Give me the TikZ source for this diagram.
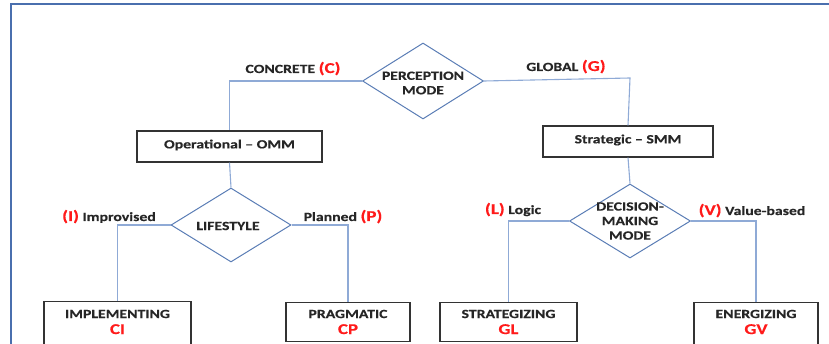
\documentclass[tikz,border=0pt]{standalone}
\usepackage{fontspec}
\setmainfont{Carlito}[FakeStretch=1.26,FakeBold=0.4]
\usetikzlibrary{shapes.geometric}
\definecolor{framec}{HTML}{4A6FAE}
\definecolor{linec}{HTML}{8FAAD6}
\definecolor{dmdc}{HTML}{5A7DB5}
\definecolor{boxc}{HTML}{333333}
\definecolor{redc}{HTML}{FF1A1A}
\newcommand{\rl}[1]{{\fontsize{15}{17}\selectfont\color{redc}#1}}
\tikzset{
  dmd/.style={diamond, draw=dmdc, line width=1pt, inner sep=0pt, minimum width=121pt, minimum height=76pt},
  boxnode/.style={rectangle, draw=boxc, line width=1.1pt, inner sep=0pt},
  txt/.style={font=\bfseries\fontsize{12.5}{14.5}\selectfont, align=center, inner sep=0pt, text=black!85},
  lbl/.style={font=\bfseries\fontsize{12.5}{14.5}\selectfont, inner sep=0pt, text=black!85},
  conn/.style={draw=linec, line width=1.1pt}
}
\begin{document}
\begin{tikzpicture}[x=1pt,y=-1pt]
\useasboundingbox (0,0) rectangle (829,344);
% frame
\draw[framec, line width=2pt] (10.5,360) -- (10.5,4.5) -- (840,4.5);
% top diamond
\node[dmd] (pm) at (423,81) {};
\node[txt] (pmt) at (423,83) {PERCEPTION\\MODE};
% middle boxes
\node[boxnode, minimum width=185pt, minimum height=31pt] (omm) at (229.5,146.5) {};
\node[txt] (ommt) at (229.5,145) {Operational -- OMM};
\node[boxnode, minimum width=170pt, minimum height=31pt] (smm) at (628,141.5) {};
\node[txt] (smmt) at (628,140) {Strategic -- SMM};
% lower diamonds
\node[dmd, minimum width=120pt, minimum height=74pt] (ls) at (231,225) {};
\node[txt] (lst) at (228,226) {LIFESTYLE};
\node[dmd, minimum width=121pt, minimum height=74pt] (dm) at (630,221) {};
\node[txt] (dmt) at (630,221) {DECISION-\\MAKING\\MODE};
% leaf boxes
\node[boxnode, minimum width=147pt, minimum height=55pt, anchor=north] (ci) at (117.5,301) {};
\node[txt] (cit) at (117.5,322) {IMPLEMENTING\\[1.5pt]\rl{CI}};
\node[boxnode, minimum width=124pt, minimum height=39pt, anchor=north] (cp) at (348,302) {};
\node[txt] (cpt) at (348,322) {PRAGMATIC\\[1.5pt]\rl{CP}};
\node[boxnode, minimum width=137pt, minimum height=39pt, anchor=north] (gl) at (508.5,302) {};
\node[txt] (glt) at (508.5,322) {STRATEGIZING\\[1.5pt]\rl{GL}};
\node[boxnode, minimum width=124pt, minimum height=55pt, anchor=north] (gv) at (756,302) {};
\node[txt] (gvt) at (756,322) {ENERGIZING\\[1.5pt]\rl{GV}};
% connectors
\draw[conn] (pm.west) -| (omm.north);
\draw[conn] (pm.east) -- (630,78) -- (smm.north);
\draw[conn] (omm.south) -- (ls.north);
\draw[conn] (smm.south) -- (dm.north);
\draw[conn] (ls.west) -| (ci.north);
\draw[conn] (ls.east) -| (cp.north);
\draw[conn] (dm.west) -| (gl.north);
\draw[conn] (dm.east) -| (gv.north);
% branch labels
\node[lbl, anchor=base] (lc) at (293,73) {CONCRETE \rl{(C)}};
\node[lbl, anchor=base] (lg) at (566,71) {GLOBAL \rl{(G)}};
\node[lbl, anchor=base] (li) at (109,221) {\rl{(I)} Improvised};
\node[lbl, anchor=base] (lp) at (343,221) {Planned \rl{(P)}};
\node[lbl, anchor=base] (ll) at (513,214) {\rl{(L)} Logic};
\node[lbl, anchor=base] (lv) at (752,215) {\rl{(V)} Value-based};
\end{tikzpicture}
\end{document}
